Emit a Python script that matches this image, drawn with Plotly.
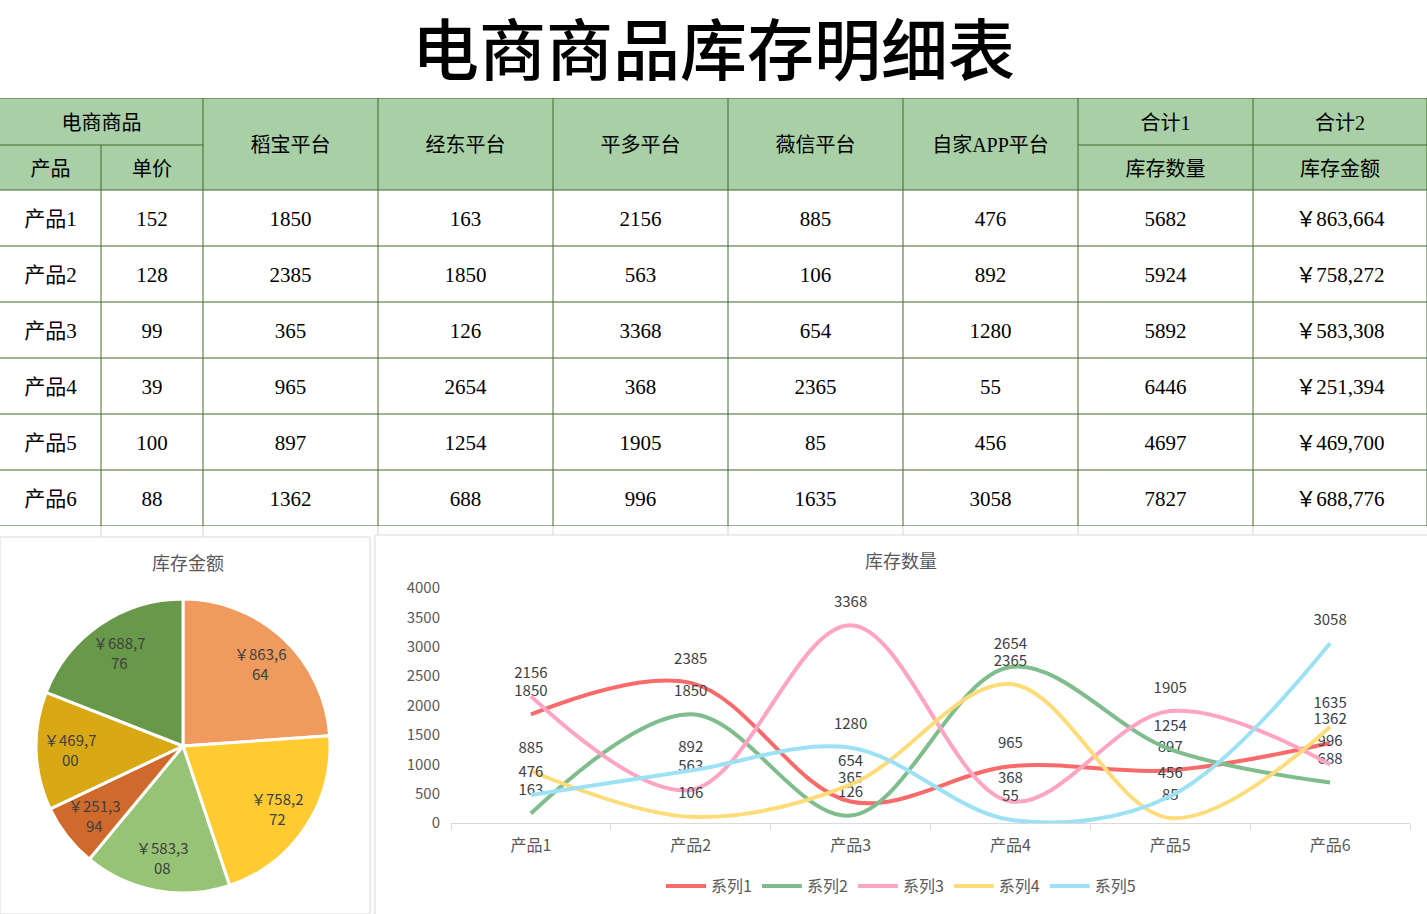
import plotly.graph_objects as go
import numpy as np

# ---------------- data ----------------
title_text = "电商商品库存明细表"
products = ["产品1", "产品2", "产品3", "产品4", "产品5", "产品6"]
unit_price = [152, 128, 99, 39, 100, 88]
platforms = ["稻宝平台", "经东平台", "平多平台", "薇信平台", "自家APP平台"]
daobao = [1850, 2385, 365, 965, 897, 1362]
jingdong = [163, 1850, 126, 2654, 1254, 688]
pingduo = [2156, 563, 3368, 368, 1905, 996]
weixin = [885, 106, 654, 2365, 85, 1635]
app_self = [476, 892, 1280, 55, 456, 3058]
stock_qty = [5682, 5924, 5892, 6446, 4697, 7827]
stock_amount = [863664, 758272, 583308, 251394, 469700, 688776]
series_names = ["系列1", "系列2", "系列3", "系列4", "系列5"]
series_values = [daobao, jingdong, pingduo, weixin, app_self]
pie_title = "库存金额"
line_title = "库存数量"
y_ticks = [0, 500, 1000, 1500, 2000, 2500, 3000, 3500, 4000]

# ---------------- styles ----------------
W, H = 1427, 914
col_widths = [101, 102, 175, 175, 175, 175, 175, 175, 174]
head_heights = [47, 45]
row_height = 56
table_top_px = 98
text_dy = 3  # small downward nudge of cell text
HEAD_FILL = "#A8CFA6"
BORDER = "#41692D"
SERIF = "Liberation Serif, Noto Sans CJK SC, serif"
SANS = "Noto Sans CJK SC, Open Sans, sans-serif"
line_colors = ["#F96A6A", "#7FBD8D", "#FFA5C3", "#FFDC7A", "#9DE2F4"]
pie_colors = ["#F09A5E", "#FFCB33", "#96C474", "#CF6A2C", "#D9A815", "#68984A"]
GRAY_TXT = "#595959"
LBL_TXT = "#404040"
pie_px = dict(x0=36, x1=330, y0=599, y1=893)
pie_label_r = 0.77

col_edges = np.concatenate([[0], np.cumsum(col_widths)])
col_centers = (col_edges[:-1] + col_edges[1:]) / 2
n_rows = len(products)
table_h = sum(head_heights) + n_rows * row_height
h1 = head_heights[0]
h12 = sum(head_heights)
row_edges = [h12 + i * row_height for i in range(n_rows + 1)]
row_centers = [h12 + (i + 0.5) * row_height + text_dy for i in range(n_rows)]
table_bottom_px = table_top_px + table_h

fig = go.Figure()

# ---------------- table (hidden axis x3/y3) ----------------
shapes = []
for e in col_edges[1:-1]:
    shapes.append(dict(type="line", xref="x3", yref="paper", x0=e, x1=e,
                       y0=0, y1=1 - table_bottom_px / H,
                       line=dict(color="#D4D4D4", width=1), layer="below"))
shapes.append(dict(type="rect", xref="paper", yref="paper", x0=0, x1=370 / W,
                   y0=0, y1=1 - 537 / H, fillcolor="white",
                   line=dict(color="#D9D9D9", width=1), layer="below"))
shapes.append(dict(type="rect", xref="paper", yref="paper", x0=375 / W, x1=1.002,
                   y0=-0.002, y1=1 - 535 / H, fillcolor="white",
                   line=dict(color="#D9D9D9", width=1), layer="below"))
shapes.append(dict(type="rect", xref="x3", yref="y3", x0=0, x1=col_edges[-1],
                   y0=0, y1=h12, fillcolor=HEAD_FILL, line=dict(width=0), layer="below"))
bl = dict(color=BORDER, width=1)
shapes.append(dict(type="line", xref="x3", yref="y3", x0=0, x1=col_edges[-1], y0=0, y1=0, line=bl))
for a, b in [(0, 2), (7, 9)]:
    shapes.append(dict(type="line", xref="x3", yref="y3", x0=col_edges[a], x1=col_edges[b],
                       y0=h1, y1=h1, line=bl))
for r in row_edges:
    shapes.append(dict(type="line", xref="x3", yref="y3", x0=0, x1=col_edges[-1], y0=r, y1=r, line=bl))
shapes.append(dict(type="line", xref="x3", yref="y3", x0=col_edges[1], x1=col_edges[1],
                   y0=h1, y1=table_h, line=bl))
for e in col_edges[2:]:
    shapes.append(dict(type="line", xref="x3", yref="y3", x0=e, x1=e, y0=0, y1=table_h, line=bl))

r1c = h1 / 2 + text_dy
r2c = (h1 + h12) / 2 + text_dy
rmc = h12 / 2 + text_dy
hx, hy, ht = [], [], []
hx.append((col_edges[0] + col_edges[2]) / 2); hy.append(r1c); ht.append("电商商品")
hx.append(col_centers[0]); hy.append(r2c); ht.append("产品")
hx.append(col_centers[1]); hy.append(r2c); ht.append("单价")
for i, p in enumerate(platforms):
    hx.append(col_centers[2 + i]); hy.append(rmc); ht.append(p)
hx.append(col_centers[7]); hy.append(r1c); ht.append("合计1")
hx.append(col_centers[7]); hy.append(r2c); ht.append("库存数量")
hx.append(col_centers[8]); hy.append(r1c); ht.append("合计2")
hx.append(col_centers[8]); hy.append(r2c); ht.append("库存金额")
fig.add_trace(go.Scatter(x=hx, y=hy, text=ht, mode="text", xaxis="x3", yaxis="y3",
                         textfont=dict(family=SERIF, size=20, color="black"),
                         showlegend=False, hoverinfo="skip"))

columns = [products, [str(v) for v in unit_price]] + \
          [[str(v) for v in s] for s in series_values] + \
          [[str(v) for v in stock_qty], ["￥{:,}".format(v) for v in stock_amount]]
bx, by, bt = [], [], []
for ci, colvals in enumerate(columns):
    for ri, v in enumerate(colvals):
        bx.append(col_centers[ci]); by.append(row_centers[ri]); bt.append(v)
fig.add_trace(go.Scatter(x=bx, y=by, text=bt, mode="text", xaxis="x3", yaxis="y3",
                         textfont=dict(family=SERIF, size=21, color="black"),
                         showlegend=False, hoverinfo="skip"))

# ---------------- pie ----------------
fig.add_trace(go.Pie(labels=products, values=stock_amount,
                     textinfo="none", sort=False, direction="clockwise", rotation=0,
                     marker=dict(colors=pie_colors, line=dict(color="white", width=3)),
                     domain=dict(x=[pie_px["x0"] / W, pie_px["x1"] / W],
                                 y=[1 - pie_px["y1"] / H, 1 - pie_px["y0"] / H]),
                     showlegend=False, hoverinfo="label+value"))

annotations = []
# pie data labels, placed along each slice's mid-angle
cx = (pie_px["x0"] + pie_px["x1"]) / 2
cy = (pie_px["y0"] + pie_px["y1"]) / 2
R = (pie_px["x1"] - pie_px["x0"]) / 2
vals = np.array(stock_amount, dtype=float)
frac = vals / vals.sum()
mids = np.cumsum(frac) - frac / 2
for v, m in zip(stock_amount, mids):
    s = "￥{:,}".format(v)
    ang = 2 * np.pi * m
    px_ = cx + pie_label_r * R * np.sin(ang)
    py_ = cy - pie_label_r * R * np.cos(ang)
    annotations.append(dict(text=s[:6] + "<br>" + s[6:], xref="paper", yref="paper",
                            x=px_ / W, y=1 - py_ / H, xanchor="center", yanchor="middle",
                            showarrow=False,
                            font=dict(family=SANS, size=15, color=LBL_TXT)))

# ---------------- line chart ----------------
for name, vals_s, c in zip(series_names, series_values, line_colors):
    fig.add_trace(go.Scatter(x=products, y=vals_s, name=name, mode="lines+markers+text",
                             line=dict(color=c, width=4, shape="spline", smoothing=1.0),
                             marker=dict(size=22, color="rgba(0,0,0,0)"),
                             text=[str(v) for v in vals_s], textposition="top center",
                             textfont=dict(family=SANS, size=15, color=LBL_TXT),
                             xaxis="x", yaxis="y"))

annotations += [
    dict(text=title_text, xref="paper", yref="paper", x=0.5, y=1 - 45 / H,
         xanchor="center", yanchor="middle",
         showarrow=False, font=dict(family=SANS, size=67, color="black", weight=500)),
    dict(text=pie_title, xref="paper", yref="paper", x=188 / W, y=1 - 562 / H,
         xanchor="center", yanchor="middle",
         showarrow=False, font=dict(family=SANS, size=18, color=GRAY_TXT)),
    dict(text=line_title, xref="paper", yref="paper", x=901 / W, y=1 - 560 / H,
         xanchor="center", yanchor="middle",
         showarrow=False, font=dict(family=SANS, size=18, color=GRAY_TXT)),
]

fig.update_layout(
    width=W, height=H, margin=dict(l=0, r=0, t=0, b=0, autoexpand=False),
    paper_bgcolor="white", plot_bgcolor="rgba(0,0,0,0)",
    shapes=shapes, annotations=annotations,
    xaxis=dict(domain=[451 / W, 1410 / W], range=[-0.5, 5.5], type="category",
               showline=True, linecolor="#D9D9D9", ticks="outside", tickson="boundaries",
               ticklen=6, tickcolor="#D9D9D9", showgrid=False, zeroline=False,
               tickfont=dict(family=SANS, size=16, color=GRAY_TXT), anchor="y",
               ticklabelstandoff=8),
    yaxis=dict(domain=[1 - 823 / H, 1 - 588 / H], range=[0, 4000], tickvals=y_ticks,
               showgrid=False, zeroline=False, showline=False, ticks="",
               tickfont=dict(family=SANS, size=15, color=GRAY_TXT), anchor="x",
               ticklabelstandoff=10),
    xaxis3=dict(domain=[0, 1], range=[0, col_edges[-1]], visible=False, anchor="y3",
                fixedrange=True),
    yaxis3=dict(domain=[1 - table_bottom_px / H, 1 - table_top_px / H], range=[table_h, 0],
                visible=False, anchor="x3", fixedrange=True),
    legend=dict(orientation="h", x=901 / W, xanchor="center", y=1 - 886 / H,
                yanchor="middle", font=dict(family=SANS, size=16, color=GRAY_TXT),
                itemwidth=40, tracegroupgap=0, bgcolor="rgba(0,0,0,0)"),
)

fig.write_html("out.html", config={"displayModeBar": False},
               post_script="document.body.style.margin='0';")
